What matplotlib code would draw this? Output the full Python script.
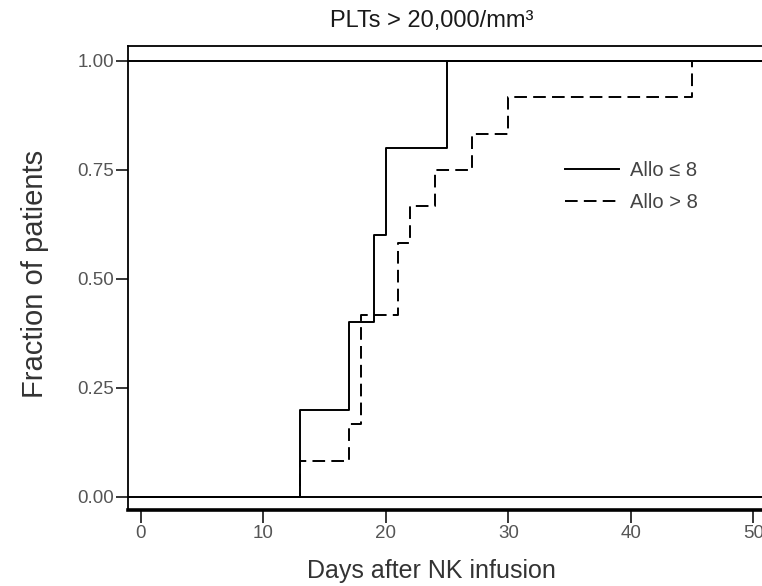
import matplotlib
matplotlib.use("Agg")
import matplotlib.pyplot as plt

plt.rcParams['font.family'] = ['Liberation Sans', 'DejaVu Sans']

title = "PLTs > 20,000/mm³"
xlabel = "Days after NK infusion"
ylabel = "Fraction of patients"
xticks = [0, 10, 20, 30, 40, 50]
yticks = [0.00, 0.25, 0.50, 0.75, 1.00]
ytick_labels = ["0.00", "0.25", "0.50", "0.75", "1.00"]

solid_label = "Allo ≤ 8"
solid_days = [0, 13, 17, 19, 20, 25]
solid_frac = [0.0, 0.2, 0.4, 0.6, 0.8, 1.0]

dashed_label = "Allo > 8"
dashed_days = [0, 13, 17, 18, 21, 22, 24, 27, 30, 45]
dashed_frac = [0.0, 0.083, 0.167, 0.417, 0.583, 0.667, 0.75, 0.833, 0.917, 1.0]

XMIN, XMAX = -1.06, 50.7
YMIN, YMAX = -0.030, 1.034

W, H = 762, 586
fig = plt.figure(figsize=(W / 100, H / 100), dpi=100)
ax = fig.add_axes([128 / W, 1 - 510 / H, 1 - 128 / W, (510 - 46) / H])

ax.axhline(0, color='black', lw=1.4, zorder=1)
ax.axhline(1, color='black', lw=1.4, zorder=1)

sx = solid_days + [XMAX + 5]
sy = solid_frac + [solid_frac[-1]]
ax.step(sx, sy, where='post', color='black', lw=1.4, label=solid_label, zorder=3)

dx = dashed_days + [XMAX + 5]
dy = dashed_frac + [dashed_frac[-1]]
ax.step(dx, dy, where='post', color='black', lw=1.4, dashes=(6.5, 3.2),
        label=dashed_label, zorder=2)

ax.set_xlim(XMIN, XMAX)
ax.set_ylim(YMIN, YMAX)
ax.set_xticks(xticks)
ax.set_yticks(yticks)
ax.set_yticklabels(ytick_labels)

ax.spines['right'].set_visible(False)
ax.spines['top'].set_linewidth(1.3)
ax.spines['left'].set_linewidth(1.3)
ax.spines['bottom'].set_linewidth(2.6)

ax.tick_params(axis='both', direction='out', length=9, width=1.1,
               colors='black', labelsize=13.5, labelcolor='#555555')
ax.tick_params(axis='x', pad=2)
ax.tick_params(axis='y', pad=0.8)

fig.text(330 / W, 1 - 27 / H, title, fontsize=17, color='#1a1a1a',
         ha='left', va='baseline')
fig.text(307 / W, 1 - 578 / H, xlabel, fontsize=18, color='#333333',
         ha='left', va='baseline')
fig.text(35 / W, 1 - 398 / H, ylabel, fontsize=21, color='#333333',
         rotation=90, ha='center', va='bottom')

leg = ax.legend(loc='upper left', bbox_to_anchor=(0.689, 0.752), frameon=False,
                fontsize=14.5, handlelength=2.7, handletextpad=0.55,
                labelspacing=0.65, borderpad=0, borderaxespad=0)
for t in leg.get_texts():
    t.set_color('#444444')

fig.savefig("out.png", dpi=100)
